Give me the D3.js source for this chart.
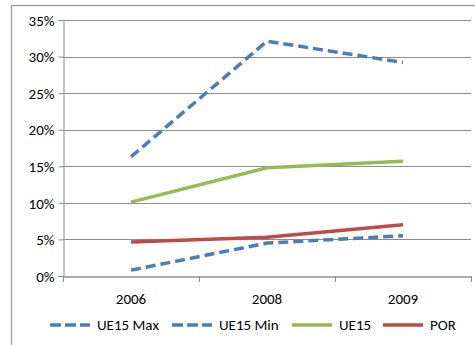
<!DOCTYPE html>
<html>
<head>
<meta charset="utf-8">
<script src="https://cdn.jsdelivr.net/npm/d3@7"></script>
<style>
body { margin: 0; background: #fff; }
text { font-family: Carlito, Lato, "Open Sans", "Liberation Sans", sans-serif; font-size: 15px; fill: #000; }
</style>
</head>
<body>
<svg id="chart"></svg>
<script>
var screen = {width:475, height:345}
var margins = {top:20, right:4, left:63, bottom:69}

var years = ["2006", "2008", "2009"]
var yTicks = [0, 5, 10, 15, 20, 25, 30, 35]

var ue15Max = [16.3, 32.1, 29.2]
var ue15Min = [0.8, 4.5, 5.5]
var ue15 = [10.1, 14.8, 15.7]
var por = [4.65, 5.3, 7.0]

var seriesNames = ["UE15 Max", "UE15 Min", "UE15", "POR"]
var seriesColors = ["#4a7ebb", "#4a7ebb", "#98b954", "#be4b48"]
var seriesDash = ["10,5", "10,5", null, null]
var seriesValues = [ue15Max, ue15Min, ue15, por]

var svg = d3.select("#chart")
    .attr("width", screen.width)
    .attr("height", screen.height)

// outer frame of the chart area
svg.append("path")
    .attr("d", "M11.5," + screen.height + "V5.5H" + (screen.width))
    .style("fill", "none")
    .style("stroke", "#a0a0a0")
    .style("stroke-width", 1.3)

var plotW = screen.width - margins.left - margins.right
var plotH = screen.height - margins.top - margins.bottom

var x = d3.scaleBand().domain(years).range([margins.left, margins.left + plotW])
var y = d3.scaleLinear().domain([0, 35]).range([margins.top + plotH, margins.top])

// gridlines
svg.append("g")
    .selectAll("line")
    .data(yTicks.slice(1))
    .enter()
    .append("line")
    .attr("x1", margins.left)
    .attr("x2", margins.left + plotW)
    .attr("y1", function(d){ return Math.round(y(d)) + 0.5 })
    .attr("y2", function(d){ return Math.round(y(d)) + 0.5 })
    .style("stroke", "#8c8c8c")
    .style("stroke-width", 1)

// y axis
var yAxis = svg.append("g")
    .attr("transform", "translate(" + (margins.left + 0.5) + ",0)")
    .call(d3.axisLeft(y).tickValues(yTicks).tickSize(5).tickPadding(4).tickFormat(function(d){ return d + "%" }))
yAxis.select(".domain").style("stroke", "#8c8c8c")
yAxis.selectAll(".tick line").style("stroke", "#8c8c8c")
yAxis.selectAll("text").style("font-size", "15px").attr("dy", "0.35em")

// x axis
var xAxis = svg.append("g")
    .attr("transform", "translate(0," + (Math.round(y(0)) + 0.5) + ")")
    .call(d3.axisBottom(x).tickSize(0).tickPadding(17))
xAxis.select(".domain").style("stroke", "#8c8c8c").style("stroke-width", 1.3)
xAxis.selectAll("text").style("font-size", "15px")

// x tick marks at category boundaries
svg.append("g")
    .selectAll("line")
    .data(years.map(function(d){ return x(d) }).concat([x(years[years.length-1]) + x.bandwidth()]))
    .enter()
    .append("line")
    .attr("x1", function(d){ return Math.round(d) + 0.5 })
    .attr("x2", function(d){ return Math.round(d) + 0.5 })
    .attr("y1", y(0))
    .attr("y2", y(0) + 6)
    .style("stroke", "#8c8c8c")

var line = d3.line()
    .x(function(d, i){ return x(years[i]) + x.bandwidth()/2 })
    .y(function(d){ return y(d) })

svg.append("g")
    .selectAll("path")
    .data(seriesValues)
    .enter()
    .append("path")
    .attr("d", function(d){ return line(d) })
    .style("fill", "none")
    .style("stroke", function(d, i){ return seriesColors[i] })
    .style("stroke-width", 3.5)
    .style("stroke-dasharray", function(d, i){ return seriesDash[i] })

// legend
var legendX = [50, 172, 292, 383]
var legendY = 325
var legend = svg.append("g")
    .selectAll("g")
    .data(seriesNames)
    .enter()
    .append("g")
    .attr("transform", function(d, i){ return "translate(" + legendX[i] + "," + legendY + ")" })

legend.append("line")
    .attr("x1", 0)
    .attr("x2", 40)
    .attr("y1", 0)
    .attr("y2", 0)
    .style("stroke", function(d, i){ return seriesColors[i] })
    .style("stroke-width", 3.5)
    .style("stroke-dasharray", function(d, i){ return seriesDash[i] ? "11,4" : null })

legend.append("text")
    .attr("x", 47)
    .attr("y", 0)
    .attr("dy", "0.35em")
    .text(function(d){ return d })
</script>
</body>
</html>
